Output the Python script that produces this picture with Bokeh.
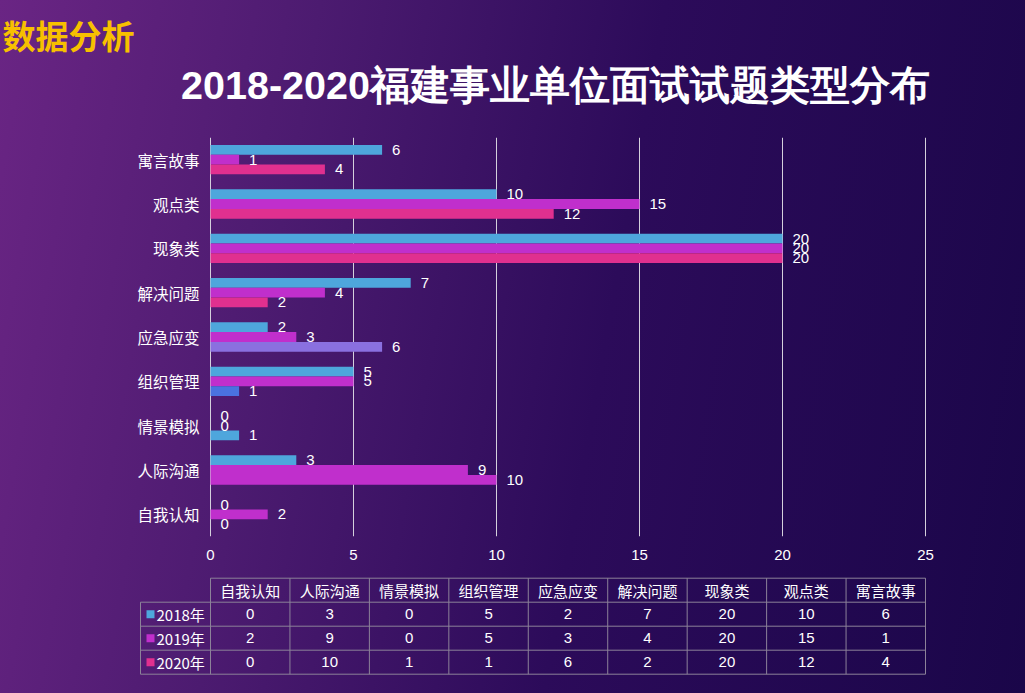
from bokeh.plotting import figure
from bokeh.models import ColumnDataSource, FactorRange, Range1d, FixedTicker
from bokeh.transform import dodge
from bokeh.core.properties import value
from bokeh.embed import file_html
from bokeh.resources import INLINE

# ---------------- data ----------------
categories = ["自我认知", "人际沟通", "情景模拟", "组织管理", "应急应变",
              "解决问题", "现象类", "观点类", "寓言故事"]
series_names = ["2018年", "2019年", "2020年"]
v2018 = [0, 3, 0, 5, 2, 7, 20, 10, 6]
v2019 = [2, 9, 0, 5, 3, 4, 20, 15, 1]
v2020 = [0, 10, 1, 1, 6, 2, 20, 12, 4]
x_ticks = [0, 5, 10, 15, 20, 25]

title_small = "数据分析"
title_main = "2018-2020福建事业单位面试试题类型分布"

# ---------------- styles ----------------
C18 = "#4ea6dc"
C19 = "#c02fcc"
C20 = "#e0308f"
colors_2020 = [C20, C19, C18, "#4a72e0", "#8a70e0", C20, C20, C20, C20]
WHITE = "#ffffff"
CJK = "Noto Sans CJK SC"
LAT = "Liberation Sans"
W = 1025
H_HEAD, H_CHART, H_TAB = 130, 435, 128
BG = {"background-image": "linear-gradient(100deg, #6a2584 0%, #4c1b70 28%, #2c0b5a 58%, #1a0649 100%)",
      "background-attachment": "fixed"}


def transparent(p):
    p.border_fill_alpha = 0
    p.background_fill_alpha = 0
    p.outline_line_color = None
    p.toolbar_location = None
    return p


# ---------------- header ----------------
head = figure(width=W, height=H_HEAD, x_range=Range1d(0, W), y_range=Range1d(0, H_HEAD),
              output_backend="svg", toolbar_location=None, min_border=0, styles=BG)
transparent(head)
head.axis.visible = False
head.grid.visible = False
head.text(x=[2], y=[H_HEAD - 34], text=[title_small], text_font=value(CJK),
          text_font_size="33px", text_font_style="bold", text_color="#f7c000",
          text_align="left", text_baseline="middle")
head.text(x=[555], y=[H_HEAD - 84], text=[title_main], text_font=value(LAT),
          text_font_size="39.5px", text_font_style="bold", text_color=WHITE,
          text_align="center", text_baseline="middle")

# ---------------- chart ----------------
src = ColumnDataSource(dict(cat=categories, a=v2018, b=v2019, c=v2020, c20=colors_2020,
                            la=[str(v) for v in v2018], lb=[str(v) for v in v2019],
                            lc=[str(v) for v in v2020]))
pad = 1 / 28.6
p = figure(width=W, height=H_CHART, y_range=FactorRange(*categories),
           x_range=Range1d(-pad, 25 + pad),
           output_backend="svg", toolbar_location=None, styles=BG,
           min_border_left=209, min_border_right=99, min_border_top=7, min_border_bottom=29)
transparent(p)
bh = 0.22
p.hbar(y=dodge("cat", bh, range=p.y_range), right="a", left=0, height=bh, source=src,
       fill_color=C18, line_color=None)
p.hbar(y=dodge("cat", 0, range=p.y_range), right="b", left=0, height=bh, source=src,
       fill_color=C19, line_color=None)
p.hbar(y=dodge("cat", -bh, range=p.y_range), right="c", left=0, height=bh, source=src,
       fill_color="c20", line_color=None)
for col, lab, dd in (("a", "la", bh), ("b", "lb", 0), ("c", "lc", -bh)):
    p.text(x=col, y=dodge("cat", dd, range=p.y_range), text=lab, source=src,
           x_offset=10, text_font=value(LAT), text_font_size="15px", text_color=WHITE,
           text_align="left", text_baseline="middle")

p.xaxis.ticker = FixedTicker(ticks=x_ticks)
p.xgrid.ticker = FixedTicker(ticks=x_ticks)
p.xgrid.grid_line_color = "#d4d0dc"
p.xgrid.grid_line_width = 1
p.ygrid.grid_line_color = None
for ax in (p.xaxis[0], p.yaxis[0]):
    ax.axis_line_color = None
    ax.major_tick_line_color = None
    ax.minor_tick_line_color = None
    ax.major_label_text_color = WHITE
    ax.major_label_text_font_size = "15px"
p.xaxis.major_label_text_font = LAT
p.xaxis.major_label_standoff = 7
p.yaxis.major_label_text_font = CJK
p.yaxis.major_label_text_font_size = "15.5px"
p.yaxis.major_label_standoff = 4

# ---------------- table ----------------
col_w = (925 - 210) / 9.0
row_h = (673.7 - 577.7) / 4.0
x0 = -210 / col_w
x1 = (W - 210) / col_w
y0 = -(693 - 673.7) / row_h
y1 = y0 + H_TAB / row_h
lab_left = -(210 - 140) / col_w

t = figure(width=W, height=H_TAB, x_range=Range1d(x0, x1), y_range=Range1d(y0, y1),
           output_backend="svg", toolbar_location=None, min_border=0, styles=BG)
transparent(t)
t.axis.visible = False
t.grid.visible = False

ncol = len(categories)
hx0, hx1, hy = [], [], []
for r in range(4):
    hx0.append(lab_left); hx1.append(ncol); hy.append(r)
hx0.append(0); hx1.append(ncol); hy.append(4)
t.segment(x0=hx0, x1=hx1, y0=hy, y1=hy, line_color="#8c8299", line_width=1)
vx, vy0, vy1 = [], [], []
for c in range(ncol + 1):
    vx.append(c); vy0.append(0); vy1.append(4)
vx.append(lab_left); vy0.append(0); vy1.append(3)
t.segment(x0=vx, x1=vx, y0=vy0, y1=vy1, line_color="#8c8299", line_width=1)

t.text(x=[i + 0.5 for i in range(ncol)], y=[3.5] * ncol, text=categories,
       text_font=value(CJK), text_font_size="15px", text_color=WHITE,
       text_align="center", text_baseline="middle")
rows = [(v2018, 2.5, C18), (v2019, 1.5, C19), (v2020, 0.5, C20)]
for (vals, yy, cc), name in zip(rows, series_names):
    t.text(x=[i + 0.5 for i in range(ncol)], y=[yy] * ncol, text=[str(v) for v in vals],
           text_font=value(LAT), text_font_size="15px", text_color=WHITE,
           text_align="center", text_baseline="middle")
    t.scatter(x=[lab_left + 10 / col_w], y=[yy], marker="square", size=8,
              fill_color=cc, line_color=None)
    t.text(x=[lab_left + 16 / col_w], y=[yy], text=[name], text_font=value(CJK),
           text_font_size="15px", text_color=WHITE, text_align="left", text_baseline="middle")

open("out.html", "w").write(file_html([head, p, t], INLINE))
